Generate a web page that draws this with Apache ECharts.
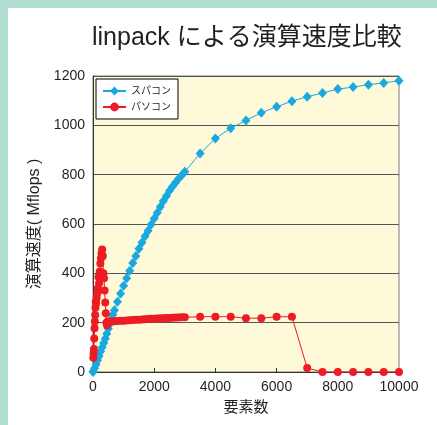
<!DOCTYPE html>
<html>
<head>
<meta charset="utf-8">
<script src="https://cdn.jsdelivr.net/npm/echarts@6/dist/echarts.min.js"></script>
<style>
html,body{margin:0;padding:0;background:#fff;}
#c{width:437px;height:425px;}
</style>
</head>
<body>
<div id="c"></div>
<script>
// ---- data ----
const xTicks = [0, 2000, 4000, 6000, 8000, 10000];
const yTicks = [0, 200, 400, 600, 800, 1000, 1200];

const spaconN = [0, 10, 50, 100, 150, 200, 250, 300, 350, 400, 450, 500, 550, 600, 650, 700,
  800, 900, 1000, 1100, 1200, 1300, 1400, 1500, 1600, 1700, 1800, 1900, 2000,
  2100, 2200, 2300, 2400, 2500, 2600, 2700, 2800, 2900, 3000,
  3500, 4000, 4500, 5000, 5500, 6000, 6500, 7000, 7500, 8000, 8500, 9000, 9500, 10000];
const spaconV = [0, 3, 15, 30, 48, 65, 83, 100, 118, 135, 155, 175, 195, 215, 232, 250,
  285, 318, 350, 380, 410, 442, 470, 500, 525, 550, 573, 598, 622,
  646, 670, 693, 714, 735, 752, 768, 784, 798, 812,
  886, 947, 988, 1020, 1051, 1075, 1098, 1116, 1131, 1147, 1155, 1165, 1172, 1181];

const pasoconN = [10, 20, 30, 40, 50, 60, 70, 80, 90, 100, 120, 140, 160, 180, 200, 220, 240, 260, 280, 300,
  320, 340, 360, 380, 400, 420, 440, 460, 480, 500,
  600, 700, 800, 900, 1000, 1100, 1200, 1300, 1400, 1500, 1600, 1700, 1800, 1900, 2000,
  2100, 2200, 2300, 2400, 2500, 2600, 2700, 2800, 2900, 3000,
  3500, 4000, 4500, 5000, 5500, 6000, 6500, 7000, 7500, 8000, 8500, 9000, 9500, 10000];
const pasoconV = [58, 75, 93, 136, 177, 205, 231, 260, 285, 278, 300, 319, 340, 385, 360, 407, 440, 461, 480, 497,
  470, 400, 380, 330, 282, 238, 200, 190, 205, 204,
  205, 206, 207, 208, 208, 209, 210, 211, 212, 212, 213, 214, 215, 216, 216,
  217, 218, 218, 219, 219, 220, 221, 221, 222, 222,
  224, 224, 224, 218, 218, 224, 224, 16, 0, 0, 0, 0, 0, 0];

const names = ['スパコン', 'パソコン'];
// ---------------------------------------

const pair = (xs, ys) => xs.map((x, i) => [x, ys[i]]);
const FONT = '"Liberation Sans", Arial, "Noto Sans CJK JP", sans-serif';
const TXT = '#231f20';

const chart = echarts.init(document.getElementById('c'), null, {renderer: 'canvas'});
chart.setOption({
  backgroundColor: '#ffffff',
  animation: false,
  textStyle: {fontFamily: FONT},
  title: {
    text: 'linpack による演算速度比較',
    left: 92, top: 26,
    padding: 0,
    textStyle: {fontSize: 25, fontWeight: 'normal', color: TXT, fontFamily: FONT}
  },
  graphic: [
    {type: 'rect', shape: {x: 0, y: 0, width: 437, height: 8}, style: {fill: '#b2ddd3'}, silent: true},
    {type: 'rect', shape: {x: 0, y: 0, width: 8, height: 425}, style: {fill: '#b2ddd3'}, silent: true}
  ],
  legend: {
    orient: 'vertical',
    left: 96, top: 79,
    data: names,
    itemWidth: 23, itemHeight: 11, itemGap: 6,
    padding: [7, 7, 7, 6],
    backgroundColor: '#ffffff',
    borderColor: '#000', borderWidth: 1,
    textStyle: {fontSize: 10, color: TXT, fontFamily: FONT}
  },
  grid: {
    left: 93, right: 38, top: 76, bottom: 53,
    show: true, backgroundColor: '#fef9d8', borderColor: '#777', borderWidth: 1
  },
  xAxis: {
    type: 'value', min: xTicks[0], max: xTicks[xTicks.length - 1], interval: 2000,
    name: '要素数', nameLocation: 'middle', nameGap: 28,
    nameTextStyle: {fontSize: 15, color: TXT, fontFamily: FONT},
    axisLine: {show: true, lineStyle: {color: '#333', width: 1}},
    axisTick: {show: true, inside: true, length: 4, lineStyle: {color: '#333'}},
    axisLabel: {fontSize: 14, color: TXT, margin: 8, fontFamily: FONT, formatter: v => String(v)},
    splitLine: {show: false}
  },
  yAxis: {
    type: 'value', min: yTicks[0], max: yTicks[yTicks.length - 1], interval: 200,
    name: '演算速度( Mflops )', nameLocation: 'middle', nameGap: 45, nameRotate: 90,
    nameTextStyle: {fontSize: 16, color: TXT, fontFamily: FONT},
    axisLine: {show: true, lineStyle: {color: '#333', width: 1}},
    axisTick: {show: false},
    axisLabel: {fontSize: 14, color: TXT, margin: 8, fontFamily: FONT, formatter: v => String(v)},
    splitLine: {show: true, lineStyle: {color: '#555', width: 1}}
  },
  series: [
    {
      name: names[0], type: 'line', data: pair(spaconN, spaconV),
      symbol: 'diamond', symbolSize: [9, 10],
      itemStyle: {color: '#19a8e0'},
      lineStyle: {color: '#19a8e0', width: 1},
      z: 2
    },
    {
      name: names[1], type: 'line', data: pair(pasoconN, pasoconV),
      symbol: 'circle', symbolSize: 8,
      itemStyle: {color: '#ec1c24'},
      lineStyle: {color: '#ec1c24', width: 1},
      z: 3
    }
  ]
});
</script>
</body>
</html>
